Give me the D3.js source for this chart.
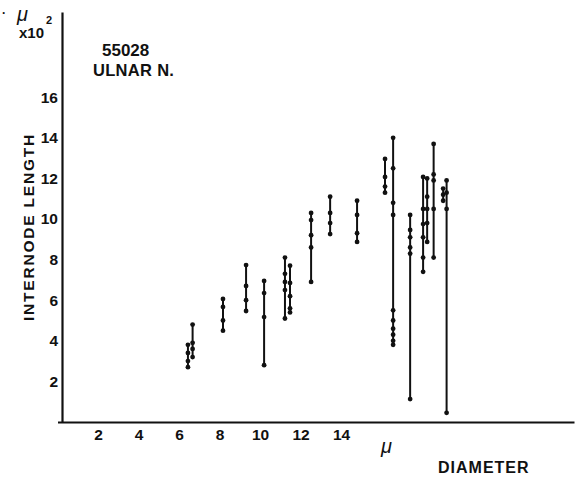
<!DOCTYPE html>
<html lang="en">
<head>
  <meta charset="UTF-8" />
  <title>Internode length vs diameter</title>
  <script src="https://d3js.org/d3.v7.min.js"></script>
  <style>
    * { margin: 0; padding: 0; box-sizing: border-box; }
    body { background: #fff; }
    svg { display: block; font-family: "Liberation Sans", Arial, sans-serif; }
    .lbl { font-weight: bold; fill: #111; }
    .axis path { stroke: #111; stroke-width: 2.2; }
    .axis text { font-family: "Liberation Sans", Arial, sans-serif; font-weight: bold; font-size: 15.5px; fill: #111; }
  </style>
</head>
<body>
  <script>
    // data: each fibre = diameter (micra) + the internode lengths measured along it (x100 micra)
    const diameters = [6.44, 6.67, 8.17, 9.31, 10.2, 11.23, 11.48, 12.52, 13.46, 14.79,
      16.17, 16.57, 17.41, 18.05, 18.25, 18.57, 19.04, 19.21];
    const lengths = [
      [2.7, 3.0, 3.4, 3.8],
      [3.2, 3.6, 3.9, 4.8],
      [4.5, 5.0, 5.67, 6.06],
      [5.47, 6.0, 6.7, 7.73],
      [2.8, 5.17, 6.35, 6.95],
      [5.1, 6.5, 6.9, 7.3, 8.1],
      [5.4, 5.6, 6.2, 6.85, 7.7],
      [6.9, 8.6, 9.2, 9.95, 10.3],
      [9.26, 9.8, 10.3, 11.1],
      [8.87, 9.3, 10.2, 10.9],
      [11.3, 11.6, 12.07, 12.96],
      [3.8, 4.0, 4.3, 4.6, 5.0, 5.5, 10.2, 10.8, 12.5, 14.0],
      [1.13, 8.3, 8.6, 9.1, 9.46, 10.2],
      [7.4, 8.1, 9.1, 9.75, 10.5, 12.07],
      [8.87, 9.8, 10.5, 11.1, 12.0],
      [8.1, 10.5, 11.9, 12.2, 13.7],
      [10.9, 11.2, 11.5],
      [0.45, 10.5, 11.3, 11.9]
    ];
    const xTicks = [2, 4, 6, 8, 10, 12, 14];
    const yTicks = [2, 4, 6, 8, 10, 12, 14, 16];

    const w = 581, h = 477;
    const svg = d3.select('body').append('svg')
      .attr('width', w)
      .attr('height', h);

    const x = d3.scaleLinear().domain([0, 25.5]).range([57.5, 574]);
    const y = d3.scaleLinear().domain([0, 20.2]).range([422, 12]);

    // axes
    svg.append('g')
      .attr('class', 'axis')
      .attr('transform', 'translate(0,422)')
      .call(d3.axisBottom(x).tickValues(xTicks).tickSize(0).tickPadding(7).tickSizeOuter(0));

    svg.append('g')
      .attr('class', 'axis')
      .attr('transform', 'translate(62,0)')
      .call(d3.axisLeft(y).tickValues(yTicks).tickSize(0).tickPadding(4).tickSizeOuter(0));

    // fibres
    const fibres = diameters.map((d, i) => ({ d: d, v: lengths[i] }));
    const g = svg.append('g');
    g.selectAll('line')
      .data(fibres)
      .join('line')
      .attr('x1', f => x(f.d))
      .attr('x2', f => x(f.d))
      .attr('y1', f => y(d3.min(f.v)))
      .attr('y2', f => y(d3.max(f.v)))
      .attr('stroke', '#111')
      .attr('stroke-width', 2);

    g.selectAll('circle')
      .data(fibres.flatMap(f => f.v.map(v => ({ d: f.d, v: v }))))
      .join('circle')
      .attr('cx', p => x(p.d))
      .attr('cy', p => y(p.v))
      .attr('r', 2.4)
      .attr('fill', '#111');

    // texts
    const t = svg.append('g');
    t.append('text').attr('x', 2).attr('y', 17).attr('class', 'lbl').style('font-size', '12px').text('·');
    t.append('text').attr('x', 17).attr('y', 21).style('font-size', '20px').style('font-style', 'italic')
      .attr('fill', '#111').text('μ');
    t.append('text').attr('x', 19).attr('y', 38).attr('class', 'lbl').style('font-size', '15px').text('x10');
    t.append('text').attr('x', 46).attr('y', 24).attr('class', 'lbl').style('font-size', '11px').text('2');

    t.append('text').attr('x', 102).attr('y', 56).attr('class', 'lbl').style('font-size', '17px').text('55028');
    t.append('text').attr('x', 93).attr('y', 76).attr('class', 'lbl').style('font-size', '16.5px')
      .style('letter-spacing', '0.3px').text('ULNAR  N.');

    t.append('text')
      .attr('class', 'lbl')
      .attr('transform', 'translate(34,227) rotate(-90)')
      .attr('text-anchor', 'middle')
      .style('font-size', '15.5px')
      .style('letter-spacing', '1.8px')
      .text('INTERNODE LENGTH');

    t.append('text').attr('x', 381).attr('y', 453).style('font-size', '20px').style('font-style', 'italic')
      .attr('fill', '#111').text('μ');
    t.append('text').attr('x', 438).attr('y', 473).attr('class', 'lbl').style('font-size', '16px')
      .style('letter-spacing', '1px').text('DIAMETER');
  </script>
</body>
</html>
